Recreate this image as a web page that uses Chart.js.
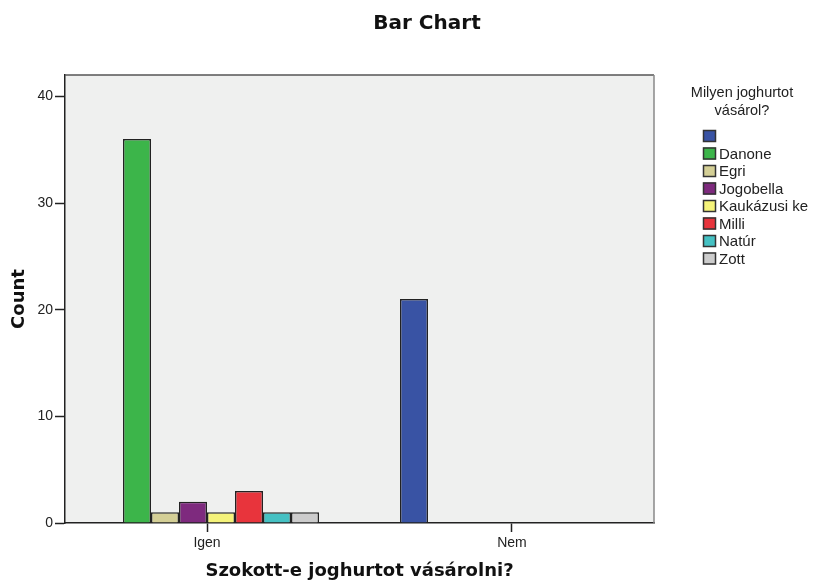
<!DOCTYPE html>
<html>
<head>
<meta charset="utf-8">
<script src="https://cdn.jsdelivr.net/npm/chart.js@4/dist/chart.umd.min.js"></script>
<style>
  html, body { margin: 0; padding: 0; background: #fff; }
  #wrap { width: 827px; height: 582px; }
</style>
</head>
<body>
<div id="wrap"><canvas id="chart" width="827" height="582"></canvas></div>
<script>
// ===== Data =====
const categories = ['Igen', 'Nem'];
const brands = ['', 'Danone', 'Egri', 'Jogobella', 'Kaukázusi ke', 'Milli', 'Natúr', 'Zott'];
const brandColors = ['#3953a4', '#3cb54a', '#d4cf96', '#7e2a7e', '#f5f37a', '#e8343c', '#45c1c3', '#cccccc'];
const counts = [
    [0, 21],   // (blank)
    [36, 0],   // Danone
    [1, 0],    // Egri
    [2, 0],    // Jogobella
    [1, 0],    // Kaukázusi ke
    [3, 0],    // Milli
    [1, 0],    // Natúr
    [1, 0]     // Zott
];
const yTicks = [0, 10, 20, 30, 40];

const FONT = '"Liberation Sans", Arial, sans-serif';
const BOLD = '"DejaVu Sans", Verdana, sans-serif';

// ===== Frame, title and legend =====
const spssFrame = {
    id: 'spssFrame',
    beforeDraw(chart) {
        const { ctx, chartArea: a } = chart;
        ctx.save();
        ctx.fillStyle = '#eff0ef';
        ctx.fillRect(a.left, a.top, a.right - a.left, a.bottom - a.top);
        ctx.restore();
    },
    afterDraw(chart) {
        const { ctx, chartArea: a } = chart;
        ctx.save();
        ctx.lineWidth = 1.5;
        ctx.strokeStyle = '#555';
        ctx.beginPath();
        ctx.moveTo(a.left, a.top);
        ctx.lineTo(a.right, a.top);
        ctx.stroke();
        ctx.strokeStyle = '#888';
        ctx.beginPath();
        ctx.moveTo(a.right, a.top);
        ctx.lineTo(a.right, a.bottom);
        ctx.stroke();

        // title
        ctx.fillStyle = '#111';
        ctx.font = 'bold 20px ' + BOLD;
        ctx.textAlign = 'center';
        ctx.textBaseline = 'middle';
        ctx.fillText('Bar Chart', 427, 24);

        // legend
        ctx.font = '14.5px ' + FONT;
        ctx.fillStyle = '#222';
        ctx.fillText('Milyen joghurtot', 742, 93);
        ctx.fillText('vásárol?', 742, 111);
        ctx.font = '15px ' + FONT;
        ctx.textAlign = 'left';
        chart.data.datasets.forEach((ds, i) => {
            const y = 130 + i * 17.5;
            ctx.fillStyle = ds.backgroundColor;
            ctx.fillRect(703, y, 13, 12);
            ctx.strokeStyle = '#333';
            ctx.lineWidth = 1.5;
            ctx.strokeRect(703.5, y + 0.5, 12, 11);
            ctx.fillStyle = '#222';
            ctx.fillText(ds.label, 719, y + 7);
        });
        ctx.restore();
    }
};

new Chart(document.getElementById('chart'), {
    type: 'bar',
    data: {
        datasets: brands.map((b, i) => ({
            label: b,
            data: counts[i].map((v, k) => ({ x: k, y: v })),
            backgroundColor: brandColors[i],
            borderColor: '#222',
            borderWidth: c => (c.raw && c.raw.y ? 1.5 : 0),
            borderSkipped: 'bottom',
            categoryPercentage: 0.7344,
            barPercentage: 1
        }))
    },
    options: {
        responsive: false,
        animation: false,
        layout: { padding: { top: 75, right: 173, left: 0, bottom: 0 } },
        plugins: {
            legend: { display: false },
            title: { display: false },
            tooltip: { enabled: false }
        },
        scales: {
            x: {
                type: 'linear',
                offset: false,
                min: -0.4656,
                max: 1.4656,
                afterFit: s => { s.height = 59; },
                afterBuildTicks: s => { s.ticks = categories.map((c, k) => ({ value: k })); },
                grid: { offset: false, drawOnChartArea: false, color: '#222', tickLength: 9, tickWidth: 1.5 },
                border: { color: '#222', width: 1.5 },
                ticks: {
                    color: '#222', font: { family: FONT, size: 14 }, padding: 3,
                    callback: v => categories[v]
                },
                title: {
                    display: true, text: 'Szokott-e joghurtot vásárolni?', color: '#111',
                    font: { family: BOLD, size: 18, weight: 'bold' }, padding: { top: 0, bottom: 0 }
                }
            },
            y: {
                min: 0,
                max: 42,
                afterFit: s => { s.width = 65; },
                afterBuildTicks: s => { s.ticks = yTicks.map(v => ({ value: v })); },
                grid: { drawOnChartArea: false, color: '#222', tickLength: 10, tickWidth: 1.5 },
                border: { color: '#222', width: 1.5 },
                ticks: { color: '#222', font: { family: FONT, size: 14 }, padding: 2 },
                title: {
                    display: true, text: 'Count', color: '#111',
                    font: { family: BOLD, size: 18, weight: 'bold' }, padding: { top: 9, bottom: 0 }
                }
            }
        }
    },
    plugins: [spssFrame]
});
</script>
</body>
</html>
